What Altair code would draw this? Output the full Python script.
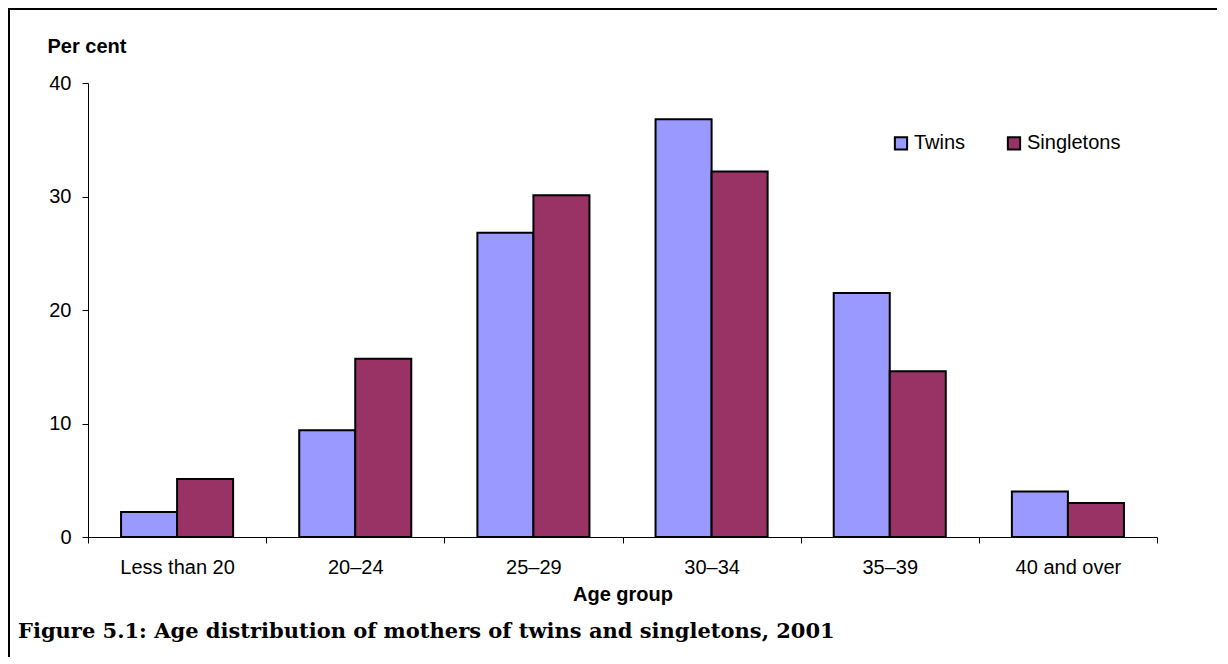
import altair as alt
import pandas as pd

categories = ["Less than 20", "20–24", "25–29", "30–34", "35–39", "40 and over"]
series = ["Twins", "Singletons"]
twins = [2.2, 9.4, 26.8, 36.8, 21.5, 4.0]
singletons = [5.1, 15.7, 30.1, 32.2, 14.6, 3.0]
colors = ["#9999FF", "#993366"]
y_ticks = [0, 10, 20, 30, 40]
fig_title = "Figure 5.1: Age distribution of mothers of twins and singletons, 2001"

rows = []
for c, t, s in zip(categories, twins, singletons):
    rows.append({"Age": c, "Series": "Twins", "Value": t})
    rows.append({"Age": c, "Series": "Singletons", "Value": s})
df = pd.DataFrame(rows)

W, H = 1069, 454
PL, PT, PR, PB = 80, 75, 60, 120
FONT = "Liberation Sans"
FS = 20

bars = alt.Chart(df).mark_bar(stroke="black", strokeWidth=2).encode(
    x=alt.X("Age:N", sort=categories,
            scale=alt.Scale(paddingInner=0, paddingOuter=0),
            axis=alt.Axis(title="Age group", labelAngle=0, tickBand="extent",
                          labelFont=FONT, labelFontSize=FS, labelColor="black",
                          titleFont=FONT, titleFontSize=FS, titleFontWeight="bold",
                          titleColor="black", domainColor="black", tickColor="black",
                          tickSize=6, labelPadding=14, titlePadding=7)),
    xOffset=alt.XOffset("Series:N", sort=series,
                        scale=alt.Scale(paddingInner=0, paddingOuter=0.59)),
    y=alt.Y("Value:Q", scale=alt.Scale(domain=[0, 40]),
            axis=alt.Axis(values=y_ticks, grid=False, title="Per cent",
                          titleAngle=0, titleAlign="left", titleBaseline="alphabetic",
                          titleX=-41, titleY=-31,
                          labelFont=FONT, labelFontSize=FS, labelColor="black",
                          titleFont=FONT, titleFontSize=FS, titleFontWeight="bold",
                          titleColor="black", domainColor="black", tickColor="black",
                          tickSize=6, labelPadding=11)),
    color=alt.Color("Series:N", sort=series,
                    scale=alt.Scale(domain=series, range=colors),
                    legend=alt.Legend(title=None, orient="none", direction="horizontal",
                                      legendX=803, legendY=50,
                                      symbolType="square", symbolSize=150,
                                      symbolStrokeColor="black", symbolStrokeWidth=2,
                                      symbolOpacity=1,
                                      labelFont=FONT, labelFontSize=FS, labelColor="black",
                                      labelOffset=3, columnPadding=37)),
)

one = pd.DataFrame({"t": [fig_title]})
title_text = alt.Chart(one).mark_text(
    font="DejaVu Serif", fontSize=21, fontWeight="bold", align="left",
    baseline="alphabetic", color="black"
).encode(x=alt.value(-70), y=alt.value(555), text="t:N")

border_left = alt.Chart(one).mark_rule(color="black", strokeWidth=2).encode(
    x=alt.value(-79), y=alt.value(-75), y2=alt.value(H + PB))
border_top = alt.Chart(one).mark_rule(color="black", strokeWidth=2).encode(
    x=alt.value(-80), x2=alt.value(W + PR), y=alt.value(-74))

chart = alt.layer(bars, title_text, border_left, border_top).properties(
    width=W, height=H,
    background="white",
    autosize=alt.AutoSizeParams(type="none"),
    padding={"left": PL, "top": PT, "right": PR, "bottom": PB},
).configure_view(strokeWidth=0, stroke="transparent")

chart.save("out.html", embed_options={"renderer": "svg", "actions": False})
